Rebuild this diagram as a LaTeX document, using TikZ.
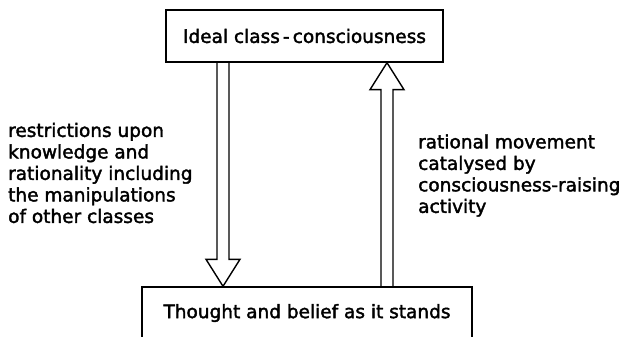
\documentclass[tikz,border=0pt]{standalone}
\usepackage{fontspec}
\setmainfont{DejaVu Sans}[FakeBold=2]
\usepackage{tikz}
\usetikzlibrary{calc}
\tikzset{
  levelbox/.style={draw,line width=1.4pt,inner sep=0pt,minimum height=52pt,
    font=\fontsize{18.5}{21.5}\selectfont},
  sidenote/.style={align=left,inner sep=0pt,anchor=west,
    font=\fontsize{18.5}{21.5}\selectfont},
}
\newcommand{\hollowarrow}[2]{%
  % #1 = foot of the shaft, #2 = tip of the head
  \coordinate (#1h) at ($(#2)!27pt!(#1)$);
  \draw[line width=1.4pt,line join=miter]
    ($(#1)!6pt!90:(#2)$) -- ($(#1h)!6pt!90:(#2)$)
    -- ($(#1h)!17pt!90:(#2)$) -- (#2)
    -- ($(#1h)!17pt!-90:(#2)$) -- ($(#1h)!6pt!-90:(#2)$)
    -- ($(#1)!6pt!-90:(#2)$);
}

\begin{document}
\begin{tikzpicture}[x=1pt,y=-1pt]
    \clip (0,0) rectangle (632,337);
    \node[levelbox,minimum width=277pt] (ideal) at (304.5,36)
      {Ideal class\,-\,consciousness};
    \node[levelbox,minimum width=330pt] (thought) at (307,313)
      {Thought and belief as it stands};
    \coordinate (dn) at (223,0);
    \coordinate (up) at (387,0);
    \coordinate (dnfoot) at (dn |- ideal.south);
    \coordinate (dntip) at (dn |- thought.north);
    \coordinate (upfoot) at (up |- thought.north);
    \coordinate (uptip) at (up |- ideal.south);
    \hollowarrow{dnfoot}{dntip}
    \hollowarrow{upfoot}{uptip}
    \node[sidenote] (restrict) at (8,173)
      {restrictions upon\\knowledge and\\rationality including\\the manipulations\\of other classes};
    \node[sidenote] (rational) at (418,175.5)
      {rational movement\\catalysed by\\consciousness-raising\\activity};
\end{tikzpicture}
\end{document}
